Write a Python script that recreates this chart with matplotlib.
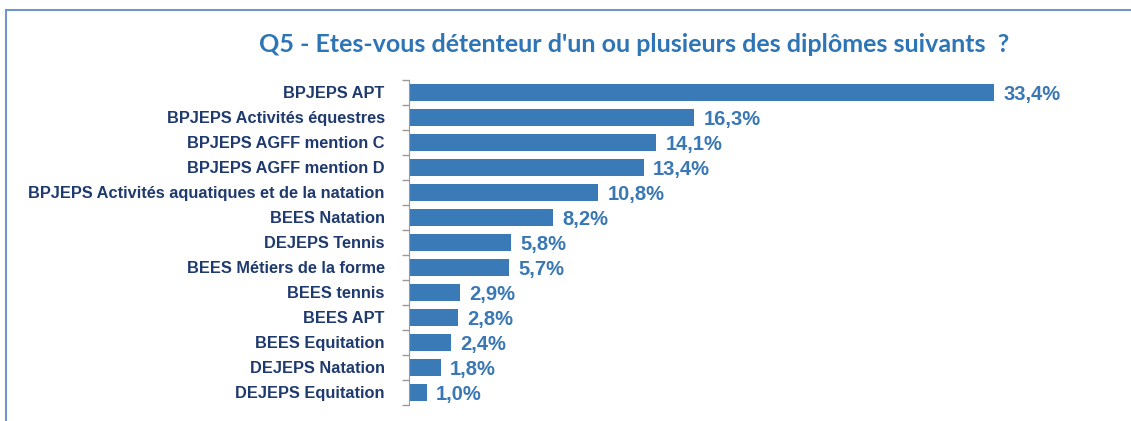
import matplotlib
matplotlib.use('Agg')
import matplotlib.pyplot as plt
from matplotlib.lines import Line2D

# données
categories = [
    "BPJEPS APT",
    "BPJEPS Activités équestres",
    "BPJEPS AGFF mention C",
    "BPJEPS AGFF mention D",
    "BPJEPS Activités aquatiques et de la natation",
    "BEES Natation",
    "DEJEPS Tennis",
    "BEES Métiers de la forme",
    "BEES tennis",
    "BEES APT",
    "BEES Equitation",
    "DEJEPS Natation",
    "DEJEPS Equitation",
]
values = [33.4, 16.3, 14.1, 13.4, 10.8, 8.2, 5.8, 5.7, 2.9, 2.8, 2.4, 1.8, 1.0]
title = "Q5 - Etes-vous détenteur d'un ou plusieurs des diplômes suivants  ?"

bar_color = '#3a7ab6'
label_color = '#1f3a6e'
value_color = '#3a78b5'
title_color = '#2e75b6'
frame_color = '#6e95cc'
font = ['Liberation Sans', 'DejaVu Sans']

W, H = 1131, 421
fig = plt.figure(figsize=(W / 100, H / 100), dpi=100)

# axes placés en pixels
left, right, top, bottom = 409, 1100, 79.5, 404.5
ax = fig.add_axes([left / W, 1 - bottom / H, (right - left) / W, (bottom - top) / H])

y = list(range(len(categories)))
ax.barh(y, values, height=0.68, color=bar_color)
ax.set_ylim(len(categories) - 0.5, -0.5)
ax.set_xlim(0, (right - left) / 17.5)

for yi, v in zip(y, values):
    ax.annotate(f"{v:.1f}%".replace('.', ','), (v, yi), xytext=(7, -2),
                textcoords='offset points', va='center', ha='left',
                fontsize=14.5, fontweight='bold', color=value_color, family=font)

ax.set_yticks(y)
ax.set_yticklabels(categories, fontsize=11.8, fontweight='bold', color=label_color,
                   family=font)
ax.set_yticks([i - 0.5 for i in range(len(categories) + 1)], minor=True)
ax.tick_params(axis='y', which='major', length=0, pad=17.5)
ax.tick_params(axis='y', which='minor', length=5, color='#999999', width=1)
ax.set_xticks([])
for s in ['top', 'right', 'bottom']:
    ax.spines[s].set_visible(False)
ax.spines['left'].set_color('#999999')

fig.text(634 / W, 1 - 45 / H, title, ha='center', va='center', fontsize=18,
         fontweight='bold', color=title_color, family=['Lato', 'DejaVu Sans'])

# cadre
fig.add_artist(Line2D([6 / W, 1], [1 - 10 / H, 1 - 10 / H], color=frame_color, lw=1.5))
fig.add_artist(Line2D([6 / W, 6 / W], [0, 1 - 10 / H], color=frame_color, lw=1.5))

fig.savefig('out.png', dpi=100)
